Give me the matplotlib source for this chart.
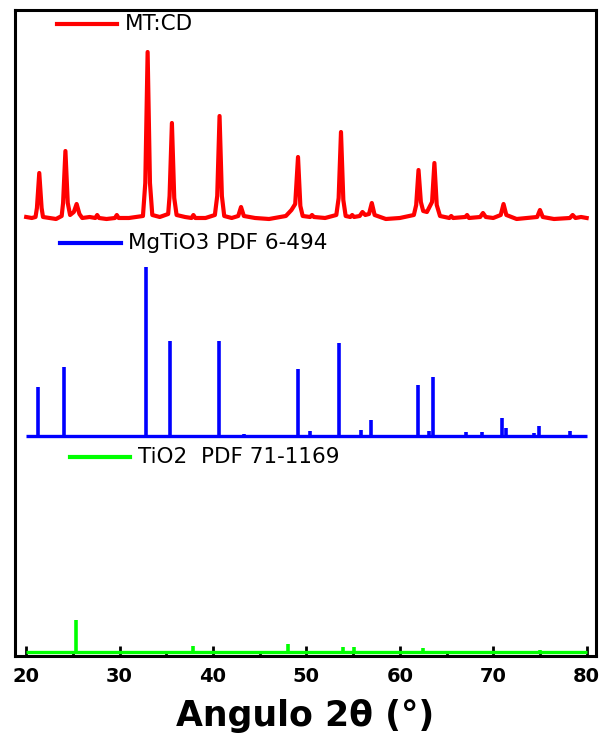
import numpy as np
import matplotlib
matplotlib.use("Agg")
import matplotlib.pyplot as plt
from matplotlib.ticker import MultipleLocator

plt.rcParams["font.family"] = ["DejaVu Sans"]

# =====================================
# Data
# =====================================

# measured pattern MT:CD (2theta, intensity a.u.)
red_2theta = [20.0, 20.6, 21.0, 21.15, 21.4, 21.65, 21.8, 22.5, 23.2, 23.8, 23.95, 24.2,
              24.45, 24.7, 25.1, 25.4, 25.7, 26.0, 26.8, 27.4, 27.6, 27.8, 28.6, 29.5,
              29.7, 29.9, 31.0, 32.5, 32.75, 33.0, 33.25, 33.5, 34.3, 35.2, 35.35, 35.6,
              35.85, 36.1, 37.0, 37.7, 37.9, 38.1, 39.2, 40.2, 40.45, 40.7, 40.95, 41.2,
              42.0, 42.7, 43.0, 43.3, 44.5, 46.0, 47.8, 48.1, 48.4, 48.8, 49.1, 49.35,
              49.6, 50.4, 50.6, 50.8, 52.0, 53.2, 53.45, 53.7, 53.95, 54.2, 54.7, 54.9,
              55.1, 55.7, 56.0, 56.3, 56.7, 57.0, 57.3, 58.5, 60.0, 61.5, 61.75, 62.0,
              62.25, 62.5, 62.9, 63.45, 63.7, 63.95, 64.3, 65.3, 65.5, 65.7, 67.0, 67.2,
              67.4, 68.6, 68.9, 69.2, 70.0, 70.8, 71.1, 71.4, 72.5, 74.7, 75.0, 75.3,
              76.5, 78.2, 78.5, 78.8, 79.4, 80.0]
red_int = [1, 0, 1, 10, 45, 10, 1, 0, -1, 2, 15, 67,
           15, 3, 6, 14, 4, 0, 1, 0, 3, 0, -1, 0,
           3, 0, 0, 2, 35, 166, 35, 3, 1, 4, 22, 95,
           20, 3, 1, 0, 3, 0, 0, 3, 22, 102, 22, 2,
           0, 2, 11, 2, 0, -1, 2, 5, 8, 14, 61, 12,
           2, 1, 3, 1, 0, 3, 20, 86, 18, 2, 1, 3,
           1, 2, 6, 3, 4, 15, 3, -1, 0, 3, 13, 48,
           16, 7, 6, 16, 55, 13, 2, 0, 2, 0, 1, 3,
           0, 1, 5, 1, 0, 3, 14, 3, -1, 1, 8, 1,
           -1, 0, 3, 0, 1, 0]

# MgTiO3 reference PDF 6-494
blue_2theta = [21.25, 24.1, 32.8, 35.4, 40.6, 41.7, 43.3, 49.1, 50.4, 53.5, 55.8,
               56.9, 61.9, 63.1, 63.6, 67.1, 68.8, 70.9, 71.4, 74.4, 74.9, 78.2]
blue_int = [49, 69, 169, 95, 95, 1, 2, 67, 5, 93, 6,
            16, 51, 5, 59, 4, 4, 18, 8, 3, 10, 5]

# TiO2 reference PDF 71-1169
green_2theta = [25.3, 37.9, 48.0, 53.95, 55.05, 62.5, 68.9, 75.0]
green_int = [32, 6, 8, 5, 5, 4, 1, 2]

labels = ["MT:CD", "MgTiO3 PDF 6-494", "TiO2  PDF 71-1169"]
colors = ["#ff0000", "#0000ff", "#00ff00"]

# vertical offsets of each pattern
offsets = [438, 219.5, 4]

# =====================================
# Plot
# =====================================

fig = plt.figure(figsize=(5.99, 7.35), dpi=100)
ax = fig.add_axes([0.025, 0.1075, 0.97, 0.8789])

ax.plot(red_2theta, np.array(red_int) + offsets[0], color=colors[0], lw=3.0,
        solid_joinstyle="round")

ax.hlines(offsets[1], 20, 80, color=colors[1], lw=2.4)
ax.vlines(blue_2theta, offsets[1], np.array(blue_int) + offsets[1],
          color=colors[1], lw=2.6)

ax.hlines(offsets[2], 20, 80, color=colors[2], lw=2.4)
ax.vlines(green_2theta, offsets[2], np.array(green_int) + offsets[2],
          color=colors[2], lw=2.6)

# legend entries
legend_pos = [(0.072, 0.176, 0.978), (0.077, 0.182, 0.639), (0.095, 0.198, 0.308)]
for (x0, x1, y), lab, c in zip(legend_pos, labels, colors):
    ax.plot([x0, x1], [y, y], color=c, lw=3.0, transform=ax.transAxes)
    ax.text(x1 + 0.013, y, lab, transform=ax.transAxes, fontsize=15.5,
            va="center", ha="left")

ax.set_xlim(18.8, 81.0)
ax.set_ylim(0, 646)

ax.xaxis.set_major_locator(MultipleLocator(10))
ax.xaxis.set_minor_locator(MultipleLocator(5))
ax.tick_params(axis="x", which="major", direction="in", length=7, width=2,
               labelsize=14, pad=8)
ax.tick_params(axis="x", which="minor", direction="in", length=3.5, width=2)
ax.tick_params(axis="y", left=False, labelleft=False)
for lbl in ax.get_xticklabels():
    lbl.set_fontweight("bold")

for s in ax.spines.values():
    s.set_linewidth(2.2)

ax.set_xlabel("Angulo 2\u03b8 (\u00b0)", fontsize=25, fontweight="bold", labelpad=9)

plt.savefig("out.png", dpi=100)
